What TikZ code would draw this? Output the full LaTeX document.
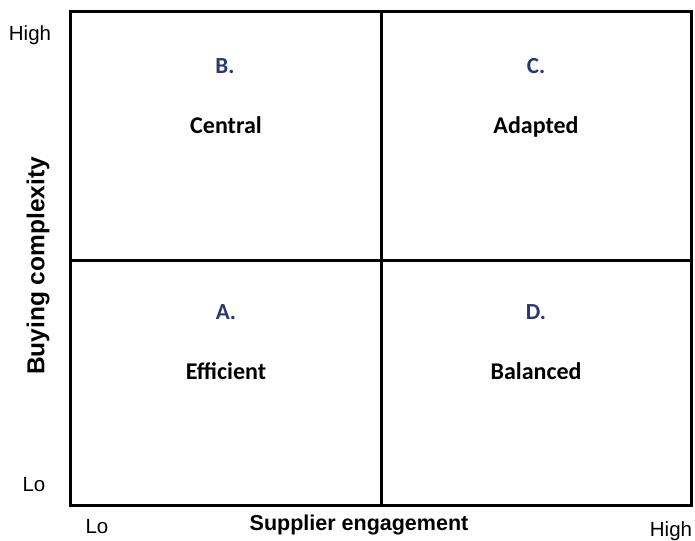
\documentclass[tikz,border=0pt]{standalone}
\usepackage{fontspec}
\setmainfont{Liberation Sans}
\newfontfamily\calibri{Carlito}
\definecolor{letterblue}{HTML}{2E3670}
\begin{document}
\begin{tikzpicture}[x=1pt, y=-1pt, line width=3pt,
        axis/.style = {font=\fontsize{20.5}{24}\selectfont},
        title/.style = {font=\fontsize{21.5}{24}\selectfont\bfseries},
        letter/.style = {font=\calibri\fontsize{23}{26}\selectfont\bfseries, text=letterblue},
        quad/.style = {font=\calibri\fontsize{24}{28}\selectfont\bfseries, text height=1.6ex, text depth=.4ex}]
        \useasboundingbox (0,0) rectangle (695,540);

        % grid
        \draw (70,12) rectangle (691,505);
        \draw (381,12) -- (381,505);
        \draw (70,260) -- (691,260);

        % quadrants
        \node[letter] (b) at (225,66)  {B.};
        \node[quad]   (central) at (226,130) {Central};
        \node[letter] (c) at (536,66)  {C.};
        \node[quad]   (adapted) at (536,130) {Adapted};
        \node[letter] (a) at (226,312) {A.};
        \node[quad]   (efficient) at (226,376) {Efficient};
        \node[letter] (d) at (536,312) {D.};
        \node[quad]   (balanced) at (536,376) {Balanced};

        % axes
        \node[axis] (yhigh) at (30,35)  {High};
        \node[axis] (ylo)   at (34,485) {Lo};
        \node[axis] (xlo)   at (97,527) {Lo};
        \node[axis] (xhigh) at (671,531) {High};
        \node[title] (xlabel) at (359,525) {Supplier engagement};
        \node[title, font=\fontsize{24.5}{28}\selectfont\bfseries, rotate=90] (ylabel) at (38,266) {Buying complexity};
    \end{tikzpicture}
\end{document}
